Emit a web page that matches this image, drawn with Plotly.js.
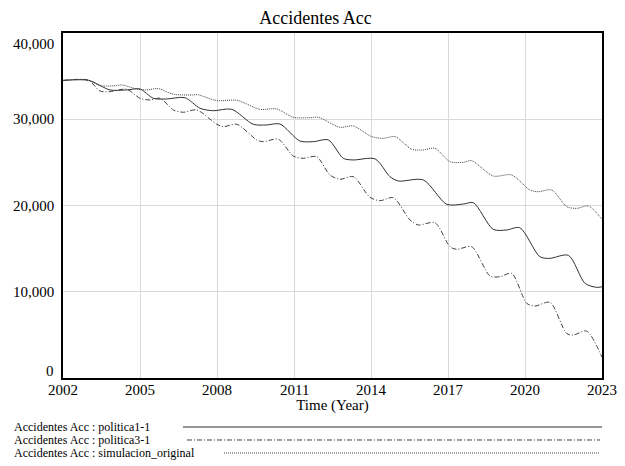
<!DOCTYPE html>
<html>
<head>
<meta charset="utf-8">
<script src="https://cdn.plot.ly/plotly-3.0.1.min.js"></script>
<style>html,body{margin:0;padding:0;background:#fff}#chart{width:625px;height:466px}</style>
</head>
<body>
<div id="chart"></div>
<script>
// ---- Data ----
var tOriginal = [2002, 2002.99, 2003.44, 2004.09, 2004.29, 2004.87, 2005.26, 2005.71, 2006.30, 2007.08, 2007.25, 2007.99, 2008.77, 2009.67, 2010.33, 2010.97, 2011.62, 2011.95, 2012.79, 2013.31, 2014.03, 2014.48, 2014.94, 2015.59, 2016.04, 2016.49, 2017.08, 2017.60, 2017.92, 2018.76, 2019.48, 2020.19, 2020.52, 2021.04, 2021.63, 2022.02, 2022.47, 2023];
var vOriginal = [34500, 34520, 33900, 33900, 33980, 33510, 33400, 33550, 32900, 32820, 32850, 32160, 32200, 31160, 31190, 30230, 30180, 30230, 29070, 29220, 27980, 27790, 27980, 26520, 26440, 26630, 25080, 25010, 25200, 23420, 23540, 21800, 21600, 21800, 19860, 19670, 19940, 18400];

var tPol1 = [2002, 2002.99, 2003.83, 2004.48, 2005.00, 2005.52, 2006.04, 2006.75, 2007.34, 2007.86, 2008.57, 2009.41, 2009.94, 2010.45, 2011.23, 2011.75, 2012.34, 2012.92, 2013.31, 2014.16, 2014.74, 2015.07, 2016.04, 2016.95, 2017.60, 2017.99, 2018.76, 2019.28, 2019.80, 2020.58, 2020.97, 2021.69, 2022.34, 2022.79, 2023];
var vPol1 = [34500, 34520, 33400, 33400, 33510, 32430, 32350, 32500, 31270, 30990, 31160, 29420, 29340, 29450, 27480, 27400, 27600, 25470, 25280, 25400, 23340, 22840, 22960, 20140, 20170, 20320, 17240, 17160, 17420, 14060, 13870, 14220, 10970, 10510, 10580];

var tPol3 = [2002, 2002.99, 2003.44, 2003.83, 2004.48, 2005.00, 2005.39, 2005.78, 2006.30, 2006.69, 2007.21, 2007.99, 2008.25, 2008.77, 2009.55, 2009.80, 2010.39, 2010.97, 2011.36, 2011.88, 2012.40, 2012.79, 2013.31, 2013.96, 2014.35, 2014.87, 2015.52, 2015.84, 2016.49, 2017.08, 2017.34, 2017.92, 2018.64, 2019.03, 2019.48, 2020.07, 2020.39, 2020.97, 2021.62, 2021.88, 2022.40, 2023];
var vPol3 = [34500, 34520, 33280, 33200, 33480, 32430, 32240, 32430, 31080, 30810, 31080, 29420, 29140, 29420, 27600, 27400, 27680, 25740, 25470, 25660, 23540, 23040, 23340, 20950, 20560, 20900, 18320, 17740, 18000, 15220, 14920, 15220, 11820, 11740, 12130, 8650, 8340, 8770, 5170, 4980, 5440, 2400];

var seriesNames = ["Accidentes Acc : politica1-1", "Accidentes Acc : politica3-1", "Accidentes Acc : simulacion_original"];
var xTickVals = [2002, 2005, 2008, 2011, 2014, 2017, 2020, 2023];
var xTickText = ["2002", "2005", "2008", "2011", "2014", "2017", "2020", "2023"];
var yTickVals = [0, 10000, 20000, 30000, 40000];
var yTickText = ["0", "10,000", "20,000", "30,000", "40,000"];

// ---- Styles ----
var FONT = "Liberation Serif";
var styles = [
  {color: "#303030", width: 1, dash: "solid"},
  {color: "#404040", width: 1, dash: "5px,2px,1px,2px"},
  {color: "#404040", width: 1, dash: "1px,1px"}
];
var xs = [tPol1, tPol3, tOriginal];
var ys = [vPol1, vPol3, vOriginal];

var traces = xs.map(function (x, i) {
  return {
    x: x, y: ys[i], name: seriesNames[i], type: "scatter", mode: "lines",
    line: {color: styles[i].color, width: styles[i].width, dash: styles[i].dash, shape: "spline", smoothing: 0.8},
    hoverinfo: "x+y+name"
  };
});

var annotations = [];
yTickVals.forEach(function (v, i) {
  var shift = 0;
  if (i === 0) shift = 7;
  if (i === yTickVals.length - 1) shift = -11;
  annotations.push({xref: "paper", yref: "y", x: 0, y: v, xanchor: "right", yanchor: "middle",
    xshift: -7, yshift: shift, text: yTickText[i], showarrow: false,
    font: {family: FONT, size: 15, color: "#000"}});
});
xTickVals.forEach(function (v, i) {
  annotations.push({xref: "x", yref: "paper", x: v, y: 0, xanchor: "center", yanchor: "top",
    yshift: -2, text: xTickText[i], showarrow: false,
    font: {family: FONT, size: 15, color: "#000"}});
});

var rowY = [-0.142, -0.1797, -0.2174];
var lineX0 = [0.2226, 0.230, 0.2987];
var lineX1 = [1.0, 0.9963, 0.9963];
var shapes = [];
seriesNames.forEach(function (n, i) {
  annotations.push({xref: "paper", yref: "paper", x: -0.0946, y: rowY[i], xanchor: "left", yanchor: "middle",
    text: n, showarrow: false, font: {family: FONT, size: 12, color: "#000"}});
  shapes.push({type: "line", xref: "paper", yref: "paper", x0: lineX0[i], x1: lineX1[i], y0: rowY[i], y1: rowY[i],
    line: {color: styles[i].color, width: 1, dash: styles[i].dash}});
});

var layout = {
  width: 625, height: 466,
  margin: {l: 63, r: 23, t: 33, b: 88, pad: 0},
  paper_bgcolor: "#fff", plot_bgcolor: "#fff",
  showlegend: false,
  font: {family: FONT, size: 14, color: "#000"},
  title: {text: "Accidentes Acc", font: {family: FONT, size: 18, color: "#000"},
    xref: "container", x: 0.5048, xanchor: "center", yref: "container", y: 0.962, yanchor: "middle"},
  xaxis: {
    range: [2002, 2023], tickvals: xTickVals, showticklabels: false, ticks: "",
    showgrid: true, gridcolor: "#d9d9d9", gridwidth: 1, zeroline: false,
    showline: true, mirror: true, linecolor: "#000", linewidth: 2,
    title: {text: "Time (Year)", font: {family: FONT, size: 15, color: "#000"}, standoff: 20}
  },
  yaxis: {
    range: [0, 40000], tickvals: yTickVals, showticklabels: false, ticks: "",
    showgrid: true, gridcolor: "#d9d9d9", gridwidth: 1, zeroline: false,
    showline: true, mirror: true, linecolor: "#000", linewidth: 2
  },
  annotations: annotations,
  shapes: shapes
};

Plotly.newPlot("chart", traces, layout, {displayModeBar: false, staticPlot: true});
</script>
</body>
</html>
